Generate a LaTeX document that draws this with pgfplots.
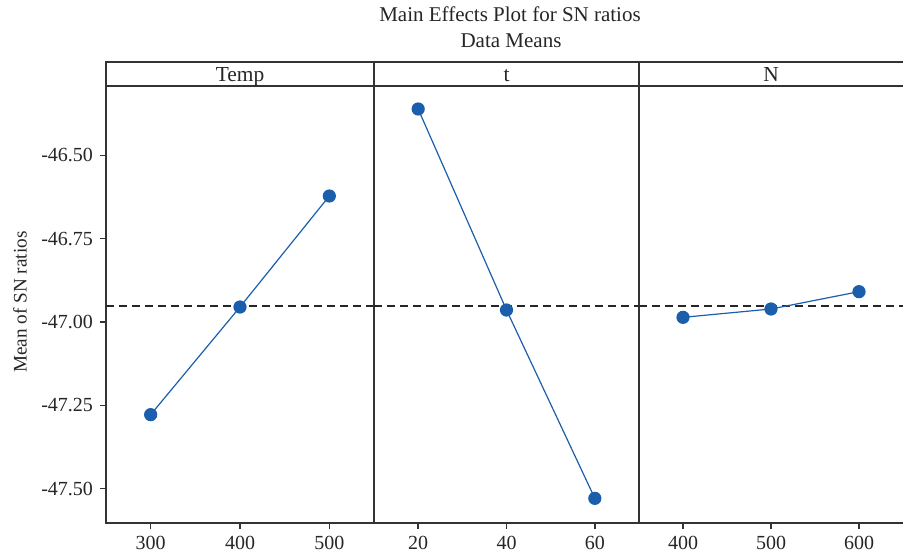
\documentclass[border=0pt]{standalone}
\usepackage{fontspec}
\setmainfont{Liberation Serif}
\usepackage{pgfplots}
\pgfplotsset{compat=1.18}
\definecolor{pt}{HTML}{1B5EAB}
\definecolor{ax}{HTML}{333333}
\pgfplotsset{
  panel/.style={
    scale only axis, height=218.5pt, anchor=south west,
    ymin=-47.603, ymax=-46.292,
    axis line style={ax, line width=0.8pt},
    every tick/.style={ax, line width=0.7pt},
    tick align=outside, xtick pos=bottom, ytick pos=left,
    major tick length=3pt,
    ticklabel style={font=\fontsize{10}{12}\selectfont, text=black!85},
    /pgf/number format/assume math mode=true,
    ytick=\empty,
  },
  data/.style={pt, line width=0.6pt, mark=*, mark size=3pt, mark options={fill=pt, draw=pt}},
  meanline/.style={black!85, line width=0.65pt, dash pattern=on 4pt off 2.5pt, forget plot},
}
\begin{document}
\begin{tikzpicture}
\path[use as bounding box] (0,0) rectangle (451.5pt,278.5pt);
% Panel 1: Temp
\begin{axis}[panel, at={(53pt,17pt)}, width=134pt,
  xmin=250, xmax=550, xtick={300,400,500},
  ytick={-47.5,-47.25,-47,-46.75,-46.5},
  yticklabel style={/pgf/number format/.cd, fixed, fixed zerofill, precision=2}]
  \addplot[meanline] coordinates {(250,-46.952) (550,-46.952)};
  \addplot[data] coordinates {(300,-47.278) (400,-46.955) (500,-46.622)};
\end{axis}
% Panel 2: t
\begin{axis}[panel, at={(187pt,17pt)}, width=132.5pt,
  xmin=10, xmax=70, xtick={20,40,60}]
  \addplot[meanline] coordinates {(10,-46.952) (70,-46.952)};
  \addplot[data] coordinates {(20,-46.361) (40,-46.964) (60,-47.529)};
\end{axis}
% Panel 3: N
\begin{axis}[panel, at={(319.5pt,17pt)}, width=132pt,
  xmin=350, xmax=650, xtick={400,500,600}, axis y line*=left]
  \addplot[meanline] coordinates {(350,-46.952) (650,-46.952)};
  \addplot[data] coordinates {(400,-46.986) (500,-46.961) (600,-46.909)};
\end{axis}
% header strip
\draw[ax, line width=0.8pt] (53pt,235.5pt) -- (53pt,247.5pt) -- (451.5pt,247.5pt);
\draw[ax, line width=0.8pt] (187pt,235.5pt) -- (187pt,247.5pt);
\draw[ax, line width=0.8pt] (319.5pt,235.5pt) -- (319.5pt,247.5pt);
\draw[ax, line width=0.8pt] (53pt,235.5pt) -- (451.5pt,235.5pt);
\begin{scope}[every node/.style={text=black!85, inner sep=0pt, anchor=base}]
\node[font=\fontsize{10.7}{12}\selectfont] at (120pt,237.6pt) {Temp};
\node[font=\fontsize{10.7}{12}\selectfont] at (253.25pt,237.6pt) {t};
\node[font=\fontsize{10.7}{12}\selectfont] at (385.5pt,237.6pt) {N};
\node[font=\fontsize{10.5}{12}\selectfont] at (255pt,267.65pt) {Main Effects Plot for SN ratios};
\node[font=\fontsize{10.5}{12}\selectfont] at (255.5pt,254.5pt) {Data Means};
\node[rotate=90, font=\fontsize{9.6}{12}\selectfont] at (13.25pt,127.5pt) {Mean of SN ratios};
\end{scope}
\end{tikzpicture}
\end{document}
